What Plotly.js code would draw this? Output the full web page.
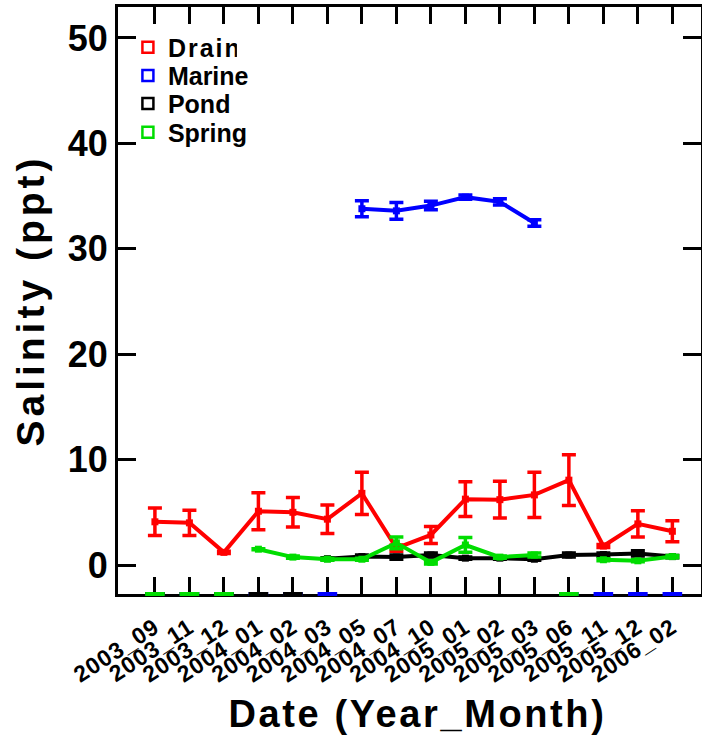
<!DOCTYPE html>
<html><head><meta charset="utf-8">
<script src="https://cdn.plot.ly/plotly-3.0.1.min.js"></script>
<style>
body{margin:0;background:#fff}
#chart .xtitle{letter-spacing:2.6px;transform:translate(8px,4px)}
#chart .ytitle{letter-spacing:4px}
#chart .legendtext{letter-spacing:2px}
#chart .xtick text{letter-spacing:1px}
</style>
</head><body><div id="chart" style="width:702px;height:740px"></div>
<script>
const categories = ["2003_09","2003_11","2003_12","2004_01","2004_02","2004_03","2004_05","2004_07","2004_10","2005_01","2005_02","2005_03","2005_06","2005_11","2005_12","2006_02"];
const drain    = [4.1, 4.0, 1.2, 5.1, 5.0, 4.35, 6.8, 1.6, 2.85, 6.25, 6.2, 6.65, 8.05, 1.8, 3.9, 3.2];
const drainErr = [1.3, 1.2, 0.1, 1.75, 1.4, 1.35, 2.0, 0.3, 0.8, 1.65, 1.75, 2.15, 2.4, 0.15, 1.25, 1.0];
const marine    = [null,null,null,null,null,null,33.8,33.6,34.1,34.9,34.45,32.45,null,null,null,null];
const marineErr = [0,0,0,0,0,0,0.75,0.8,0.4,0.2,0.3,0.3,0,0,0,0];
const pond    = [null,null,null,null,null,0.6,0.8,0.75,0.95,0.65,0.65,0.55,0.95,1.0,1.1,0.8];
const pondErr = [0,0,0,0,0,0.1,0.15,0.2,0.2,0.1,0.1,0.1,0.2,0.15,0.25,0.1];
const spring    = [null,null,null,1.5,0.75,0.55,0.55,2.1,0.25,1.9,0.75,0.95,null,0.5,0.4,0.8];
const springErr = [0,0,0,0.05,0.1,0.1,0.1,0.55,0.15,0.7,0.1,0.2,0,0.1,0.1,0.1];
const seriesNames = ["Drain","Marine","Pond","Spring"];
const seriesColors = ["#ff0000","#0000ff","#000000","#00dd00"];

const Y_MIN = -2.75, Y_MAX = 52.94;
const idx = categories.map((c,i)=>i);
const values = [drain, marine, pond, spring];
const errs = [drainErr, marineErr, pondErr, springErr];
const FONT = 'Liberation Sans, Arial, sans-serif';

const traces = [];
values.forEach((v,k)=>{
  traces.push({
    x: idx, y: v, type:'scatter', mode:'lines+markers', showlegend:false,
    line:{color:seriesColors[k], width:4},
    marker:{color:seriesColors[k], symbol:'square', size:7},
    error_y:{type:'data', array:errs[k], visible:true, color:seriesColors[k], thickness:3.5, width:7},
    connectgaps:false, hoverinfo:'x+y'
  });
});
// missing-value markers drawn at the bottom of the axis
values.forEach((v,k)=>{
  const mx = idx.filter(i=>v[i]===null);
  if (!mx.length) return;
  traces.push({
    x: mx, y: mx.map(()=>Y_MIN), type:'scatter', mode:'markers', showlegend:false,
    cliponaxis:false,
    marker:{symbol:'line-ew', size:14, line:{color:seriesColors[k], width:4}},
    hoverinfo:'skip'
  });
});
// legend entries, one legend each for exact spacing
const legendIds = ['legend','legend2','legend3','legend4'];
const legendY = [0.931, 0.883, 0.835, 0.786];
seriesNames.forEach((n,k)=>{
  traces.push({
    x:[null], y:[null], type:'scatter', mode:'markers', name:n, legend:legendIds[k],
    marker:{symbol:'square-open', size:11, color:seriesColors[k], line:{color:seriesColors[k], width:2.5}}
  });
});

const layout = {
  width:702, height:740,
  margin:{l:118, r:1, t:7, b:146},
  paper_bgcolor:'#fff', plot_bgcolor:'#fff',
  showlegend:true,
  xaxis:{
    range:[-1.07, 15.83], tickmode:'array', tickvals:idx, ticktext:categories,
    tickangle:-33, tickfont:{family:FONT, size:23, color:'#000', weight:'bold'},
    ticklabelstandoff:8,
    ticks:'inside', ticklen:17, tickwidth:3, tickcolor:'#000',
    showline:true, linewidth:3, linecolor:'#000', mirror:'ticks',
    showgrid:false, zeroline:false, layer:'below traces',
    title:{text:'Date (Year_Month)', font:{family:FONT, size:38, color:'#000', weight:'bold'}, standoff:14}
  },
  yaxis:{
    range:[Y_MIN, Y_MAX], tickvals:[0,10,20,30,40,50],
    tickfont:{family:FONT, size:36, color:'#000', weight:'bold'},
    ticks:'inside', ticklen:18, tickwidth:3, tickcolor:'#000',
    showline:true, linewidth:3, linecolor:'#000', mirror:'ticks',
    showgrid:false, zeroline:false, layer:'below traces',
    title:{text:'Salinity (ppt)', font:{family:FONT, size:39, color:'#000', weight:'bold'}, standoff:12}
  }
};
legendIds.forEach((id,k)=>{
  layout[id] = {x:0.017, y:legendY[k], xanchor:'left', yanchor:'middle', bgcolor:'rgba(0,0,0,0)',
    font:{family:FONT, size:25, color:'#000', weight:'bold'}, itemwidth:30};
});
Plotly.newPlot('chart', traces, layout, {displayModeBar:false, staticPlot:true});
</script></body></html>
